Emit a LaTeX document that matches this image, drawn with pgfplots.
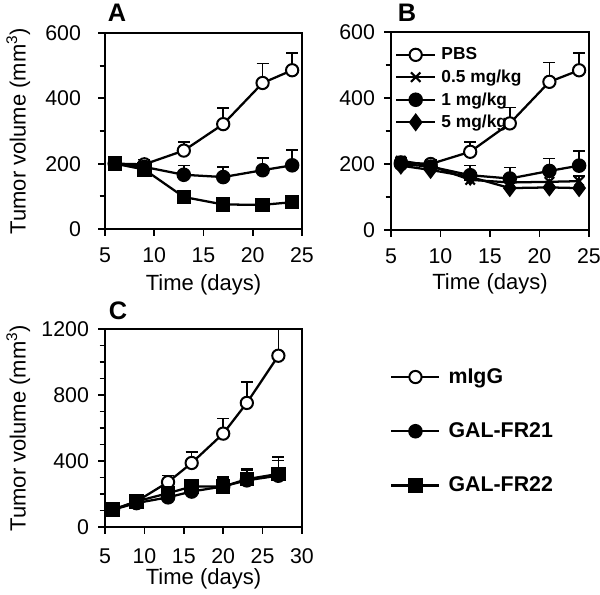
\documentclass[border=0pt]{standalone}
\usepackage{pgfplots}
\pgfplotsset{compat=1.18}
\usepackage{fontspec}
\setmainfont{Liberation Sans}

\pgfplotsset{
  panel/.style={
    scale only axis, clip=true,
    axis line style={line width=1.6pt},
    tick align=outside, tick pos=left,
    major tick length=5pt, minor tick length=4pt,
    tick style={line width=1.3pt, black},
    every tick label/.append style={font=\fontsize{16}{19}\selectfont},
    /pgf/number format/assume math mode=true,
    /pgf/number format/1000 sep={},
    label style={font=\fontsize{16.5}{19}\selectfont},
    ylabel={Tumor volume (mm\textsuperscript{3})},
    xlabel={Time (days)},
    ylabel style={at={(axis description cs:-0.44,0.5)}, anchor=center},
    xlabel style={at={(axis description cs:0.5,-0.286)}, anchor=center},
    xticklabel style={yshift=-5.5pt},
  },
  ebars/.style={
    error bars/y dir=plus, error bars/y explicit,
    error bars/error bar style={line width=1.2pt, black, solid},
    error bars/error mark options={rotate=90, line width=1.2pt, mark size=4.5pt, black},
  },
  opencirc/.style={black, line width=1.7pt, mark=*, mark size=4.6pt,
    mark options={fill=white, line width=1.5pt}},
  fullcirc/.style={black, line width=1.7pt, mark=*, mark size=4.6pt,
    mark options={fill=black}},
  fullsq/.style={black, line width=1.7pt, mark=square*, mark size=4.6pt,
    mark options={fill=black}},
  cross/.style={black, line width=1.7pt, mark=x, mark size=5pt,
    mark options={line width=1.6pt}},
  diam/.style={black, line width=1.7pt, mark=diamond*, mark size=5.5pt,
    mark options={fill=black}},
}

\begin{document}
\begin{tikzpicture}
\path[use as bounding box] (0pt,0pt) rectangle (450pt,445.5pt);

% ---- panel A
\begin{axis}[panel,
  at={(78.75pt,273.75pt)}, anchor=south west,
  width=147.75pt, height=147pt,
  xmin=5, xmax=25, ymin=0, ymax=600,
  xtick={5,10,...,25}, ytick={0,200,...,600}, minor y tick num=1,
  yticklabel style={xshift=-9.5pt},
]
\addplot[opencirc, ebars] coordinates {
  (6,200) +- (0,0) (9,198) +- (0,15) (13,240) +- (0,27)
  (17,321) +- (0,50) (21,447) +- (0,60) (24,486) +- (0,52)};
\addplot[fullcirc, ebars] coordinates {
  (6,200) +- (0,0) (9,190) +- (0,10) (13,166) +- (0,29)
  (17,159) +- (0,31) (21,180) +- (0,37) (24,195) +- (0,46)};
\addplot[fullsq] coordinates {
  (6,200) (9,182) (13,98) (17,75) (21,74) (24,82)};
\end{axis}
\node[font=\bfseries\fontsize{19}{22}\selectfont] at (87.75pt,436pt) {A};

% ---- panel B
\begin{axis}[panel,
  at={(293.25pt,273pt)}, anchor=south west,
  width=148.5pt, height=148.5pt,
  xmin=5, xmax=25, ymin=0, ymax=600,
  xtick={5,10,...,25}, ytick={0,200,...,600}, minor y tick num=1,
  yticklabel style={xshift=-3.5pt},
  ylabel={},
  xlabel style={at={(axis description cs:0.5,-0.27)}},
  legend image code/.code={\draw[mark repeat=2,mark phase=2]
    plot coordinates {(0pt,0pt) (14.5pt,0pt) (29pt,0pt)};},
  legend style={at={(axis description cs:0.02,0.935)}, anchor=north west,
    draw=none, fill=none, inner sep=0pt, row sep=2pt,
    font=\bfseries\fontsize{13}{15}\selectfont,
    /tikz/every odd column/.append style={column sep=2pt}},
  legend cell align=left,
]
\addplot[opencirc, ebars] coordinates {
  (6,205) +- (0,0) (9,200) +- (0,12) (13,237) +- (0,30)
  (17,323) +- (0,48) (21,449) +- (0,58) (24,484) +- (0,53)};
\addlegendentry{PBS}
\addplot[cross, ebars] coordinates {
  (6,210) +- (0,8) (9,195) +- (0,10) (13,152) +- (0,0)
  (17,144) +- (0,0) (21,146) +- (0,0) (24,148) +- (0,15)};
\addlegendentry{0.5 mg/kg}
\addplot[fullcirc, ebars] coordinates {
  (6,200) +- (0,0) (9,192) +- (0,10) (13,166) +- (0,29)
  (17,156) +- (0,33) (21,179) +- (0,38) (24,195) +- (0,45)};
\addlegendentry{1 mg/kg}
\addplot[diam] coordinates {
  (6,195) (9,182) (13,161) (17,127) (21,129) (24,127)};
\addlegendentry{5 mg/kg}
\end{axis}
\node[font=\bfseries\fontsize{19}{22}\selectfont] at (305.25pt,436pt) {B};

% ---- panel C
\begin{axis}[panel,
  at={(78.75pt,50.25pt)}, anchor=south west,
  width=147.75pt, height=148.5pt,
  xmin=5, xmax=30, ymin=0, ymax=1200,
  xtick={5,10,...,30}, ytick={0,400,...,1200}, minor y tick num=3,
  yticklabel style={xshift=-3.5pt},
  xticklabel style={yshift=-2pt},
  xlabel style={at={(axis description cs:0.5,-0.26)}},
  legend image code/.code={\draw[mark repeat=2,mark phase=2]
    plot coordinates {(0pt,0pt) (18pt,0pt) (36pt,0pt)};},
  legend style={at={(axis description cs:1.447,0.815)}, anchor=north west,
    draw=none, fill=none, inner sep=0pt, row sep=24pt,
    font=\bfseries\fontsize{16}{19}\selectfont,
    /tikz/every odd column/.append style={column sep=4pt}},
  legend cell align=left,
]
\addplot[opencirc, ebars] coordinates {
  (6,105) +- (0,0) (9,155) +- (0,0) (13,272) +- (0,40)
  (16,388) +- (0,65) (20,566) +- (0,91) (23,752) +- (0,125)
  (27,1038) +- (0,200)};
\addlegendentry{mIgG}
\addplot[fullcirc, ebars] coordinates {
  (6,105) +- (0,0) (9,145) +- (0,0) (13,180) +- (0,0)
  (16,215) +- (0,0) (20,246) +- (0,50) (23,283) +- (0,70)
  (27,311) +- (0,115)};
\addlegendentry{GAL-FR21}
\addplot[fullsq, ebars] coordinates {
  (6,105) +- (0,0) (9,155) +- (0,0) (13,205) +- (0,0)
  (16,245) +- (0,0) (20,245) +- (0,60) (23,290) +- (0,55)
  (27,322) +- (0,80)};
\addlegendentry{GAL-FR22}
\end{axis}
\node[font=\bfseries\fontsize{19}{22}\selectfont] at (88.5pt,212.5pt) {C};
\end{tikzpicture}
\end{document}
